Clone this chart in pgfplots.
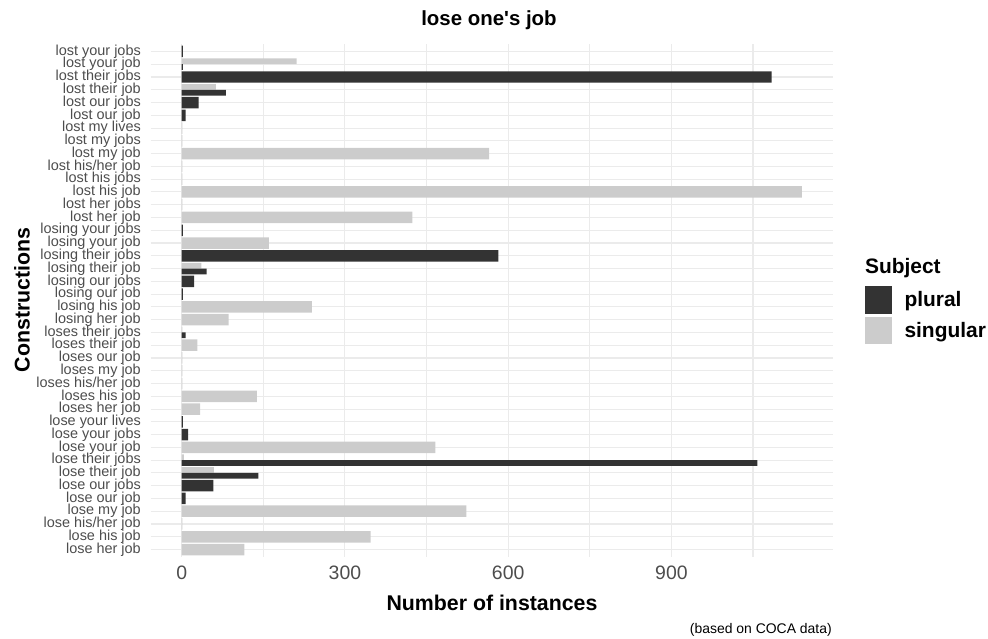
\documentclass[border=0pt]{standalone}
\usepackage{pgfplots}
\pgfplotsset{compat=1.18}
\usepackage{fontspec}
\setmainfont{Liberation Sans}

\definecolor{plural}{HTML}{333333}
\definecolor{singular}{HTML}{CCCCCC}
\definecolor{gridc}{HTML}{EBEBEB}
\definecolor{ticktext}{HTML}{4D4D4D}

\begin{document}
\begin{tikzpicture}
\path[use as bounding box] (-150.7bp,-81.8bp) rectangle (837.3bp,557.2bp);
\begin{axis}[
    at={(0,0)}, anchor=south west,
    scale only axis,
    width=682.3bp, height=513.4bp,
    xmin=-57, xmax=1197,
    ymin=0.4, ymax=40.6,
    clip=false,
    axis line style={draw=none},
    major tick length=0pt, minor tick length=0pt,
    xtick={0,300,600,900},
    minor xtick={150,450,750,1050},
    ytick={1,...,40},
    yticklabels={lose her job, lose his job, lose his/her job, lose my job, lose our job, lose our jobs, lose their job, lose their jobs, lose your job, lose your jobs, lose your lives, loses her job, loses his job, loses his/her job, loses my job, loses our job, loses their job, loses their jobs, losing her job, losing his job, losing our job, losing our jobs, losing their job, losing their jobs, losing your job, losing your jobs, lost her job, lost her jobs, lost his job, lost his jobs, lost his/her job, lost my job, lost my jobs, lost my lives, lost our job, lost our jobs, lost their job, lost their jobs, lost your job, lost your jobs},
    xmajorgrids, xminorgrids, ymajorgrids,
    major grid style={draw=gridc, line width=1.1bp},
    minor grid style={draw=gridc, line width=1.1bp},
    /pgf/number format/assume math mode=true,
    xticklabel style={font=\fontsize{19.5}{19.5}\selectfont, text=ticktext, inner sep=0pt, yshift=-9bp},
    yticklabel style={font=\fontsize{14.5}{14.5}\selectfont, text=ticktext, inner sep=0pt, xshift=-9.7bp},
    every axis title shift=0pt,
    title={lose one\textquotesingle s job},
    title style={at={(axis description cs:0.4958,1.0464)}, anchor=center, font=\bfseries\fontsize{20.5}{20.5}\selectfont},
    xlabel={Number of instances},
    xlabel style={at={(axis description cs:0.5002,-0.0892)}, anchor=center, font=\bfseries\fontsize{21.4}{21.4}\selectfont},
    ylabel={Constructions},
    ylabel style={at={(axis description cs:-0.1886,0.501)}, anchor=center, rotate=0, font=\bfseries\fontsize{21.4}{21.4}\selectfont},
    legend style={at={(axis description cs:1.0459,0.5288)}, anchor=north west, draw=none, fill=none, inner sep=0pt, row sep=3bp,
        font=\bfseries\fontsize{21}{21}\selectfont, nodes={inner sep=0pt}},
    legend cell align=left,
    legend image code/.code={\fill[#1] (0bp,-13.8bp) rectangle (27.6bp,13.8bp); \path (40bp,0bp);},
]
% singular, alone in its row
\addplot[xbar, bar width=0.9, bar shift=0, fill=singular, draw=none, forget plot] coordinates {
    (115,1) (347,2) (1,3) (523,4) (466,9) (34,12) (138,13) (1,14) (1,15) (1,16)
    (29,17) (86,19) (239,20) (160,25) (424,27) (1,28) (1140,29) (1,30) (1,31)
    (565,32) (1,33) (1,34)
};
% plural, alone in its row
\addplot[xbar, bar width=0.9, bar shift=0, fill=plural, draw=none, forget plot] coordinates {
    (7,5) (58,6) (12,10) (2,11) (2,21) (23,22) (582,24) (2,26) (7,35) (31,36)
    (1084,38) (2,40)
};
% rows with both: singular above, plural below
\addplot[xbar, bar width=0.45, bar shift=0.225, fill=singular, draw=none, forget plot] coordinates {
    (59,7) (4,8) (1,18) (36,23) (63,37) (211,39)
};
\addplot[xbar, bar width=0.45, bar shift=-0.225, fill=plural, draw=none, forget plot] coordinates {
    (141,7) (1058,8) (7,18) (46,23) (81,37) (2,39)
};
\addlegendimage{fill=plural, draw=none}
\addlegendentry{plural}
\addlegendimage{fill=singular, draw=none}
\addlegendentry{singular}
\node[anchor=base west, inner sep=0pt, font=\bfseries\fontsize{21}{21}\selectfont] at (axis description cs:1.0468,0.553) {Subject};
\node[anchor=east, inner sep=0pt, font=\fontsize{14}{14}\selectfont] at (axis description cs:0.9985,-0.1418) {(based on COCA data)};
\end{axis}
\end{tikzpicture}
\end{document}
